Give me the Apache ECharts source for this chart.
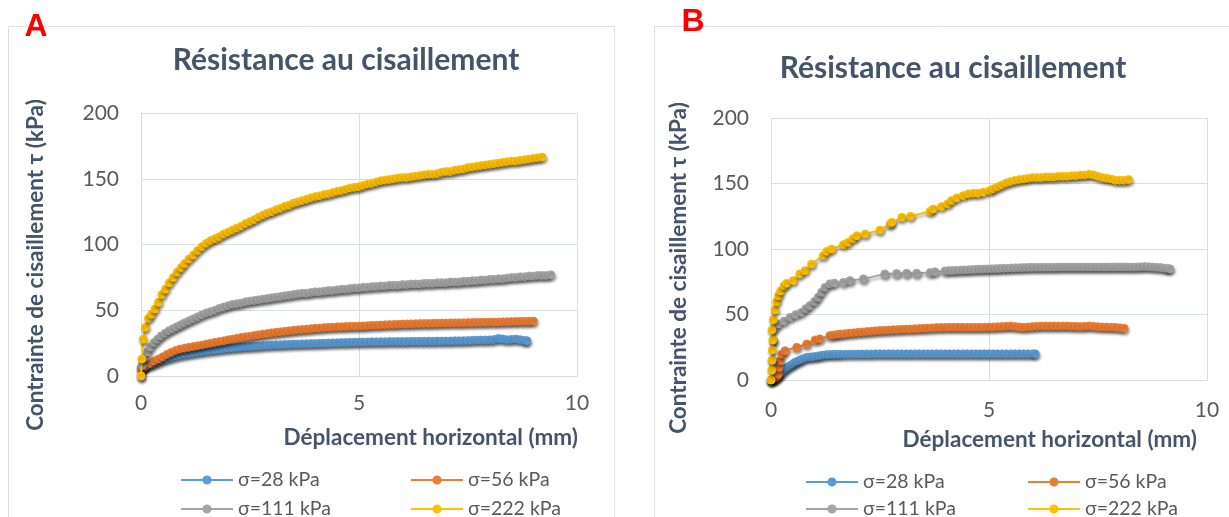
<!DOCTYPE html>
<html><head><meta charset="utf-8">
<script src="https://cdn.jsdelivr.net/npm/echarts@6/dist/echarts.min.js"></script>
<style>html,body{margin:0;padding:0;background:#fff}#c{width:1229px;height:517px}</style>
</head><body><div id="c"></div>
<script>
// ---------- DATA ----------
const seriesNames = ['σ=28 kPa', 'σ=56 kPa', 'σ=111 kPa', 'σ=222 kPa'];
const chartTitle = 'Résistance au cisaillement';
const xAxisName = 'Déplacement horizontal (mm)';
const yAxisName = 'Contrainte de cisaillement τ (kPa)';
const panelLabels = ['A', 'B'];
const xTicks = [0, 5, 10];
const yTicks = [0, 50, 100, 150, 200];

// Panel A
const A_28 = [[0,6],[0.05,7],[0.1,7.6],[0.2,8.4],[0.3,9.5],[0.4,10.8],[0.5,12.2],[0.6,13.3],[0.7,14.3],[0.8,15.2],[0.9,16],[1.0,16.6],[1.1,17.2],[1.2,17.7],[1.3,18.2],[1.4,18.7],[1.5,19.2],[1.6,19.6],[1.7,20],[1.8,20.4],[1.9,20.8],[2.0,21.1],[2.1,21.4],[2.2,21.7],[2.3,22],[2.4,22.3],[2.5,22.5],[2.6,22.7],[2.7,22.9],[2.8,23.1],[2.9,23.3],[3.0,23.5],[3.1,23.7],[3.2,23.8],[3.3,24],[3.4,24.1],[3.5,24.3],[3.6,24.4],[3.7,24.5],[3.8,24.6],[3.9,24.7],[4.0,24.8],[4.1,24.9],[4.2,25],[4.3,25.1],[4.4,25.2],[4.5,25.3],[4.6,25.4],[4.7,25.5],[4.8,25.6],[4.9,25.7],[5.0,25.8],[5.1,25.8],[5.2,25.9],[5.3,26],[5.4,26],[5.5,26.1],[5.6,26.1],[5.7,26.2],[5.8,26.2],[5.9,26.3],[6.0,26.3],[6.1,26.3],[6.2,26.4],[6.3,26.4],[6.4,26.4],[6.5,26.5],[6.6,26.5],[6.7,26.5],[6.8,26.6],[6.9,26.6],[7.0,26.6],[7.1,26.7],[7.2,26.8],[7.3,26.8],[7.4,26.9],[7.5,27],[7.6,27.1],[7.7,27.3],[7.8,27.4],[7.9,27.4],[8.0,27.5],[8.1,27.8],[8.2,28.6],[8.3,28.2],[8.4,27.6],[8.5,27.9],[8.6,28.2],[8.7,27.6],[8.8,27],[8.85,26.9]];
const A_56 = [[0,4],[0.05,6],[0.1,7.5],[0.2,9.6],[0.3,11.5],[0.4,13],[0.5,14.7],[0.6,16.5],[0.7,18],[0.8,19.5],[0.9,20.5],[1.0,21.2],[1.1,21.8],[1.2,22.4],[1.3,23],[1.4,23.6],[1.5,24.3],[1.6,25],[1.7,25.6],[1.8,26.2],[1.9,26.8],[2.0,27.5],[2.1,28.1],[2.2,28.7],[2.3,29.3],[2.4,29.8],[2.5,30.3],[2.6,30.8],[2.7,31.3],[2.8,31.9],[2.9,32.3],[3.0,32.8],[3.1,33.2],[3.2,33.6],[3.3,34],[3.4,34.4],[3.5,34.8],[3.6,35.1],[3.7,35.4],[3.8,35.7],[3.9,36],[4.0,36.3],[4.1,36.5],[4.2,36.8],[4.3,37],[4.4,37.2],[4.5,37.4],[4.6,37.5],[4.7,37.7],[4.8,37.8],[4.9,37.9],[5.0,38],[5.1,38.1],[5.2,38.3],[5.3,38.5],[5.4,38.6],[5.5,38.8],[5.6,39],[5.7,39.1],[5.8,39.2],[5.9,39.3],[6.0,39.5],[6.1,39.6],[6.2,39.7],[6.3,39.8],[6.4,39.9],[6.5,40],[6.6,40],[6.7,40.1],[6.8,40.2],[6.9,40.3],[7.0,40.3],[7.1,40.4],[7.2,40.4],[7.3,40.5],[7.4,40.5],[7.5,40.6],[7.6,40.7],[7.7,40.8],[7.8,40.8],[7.9,40.9],[8.0,41],[8.1,41],[8.2,41.1],[8.3,41.2],[8.4,41.3],[8.5,41.4],[8.6,41.5],[8.7,41.6],[8.8,41.7],[8.9,41.7],[9.0,41.8]];
const A_111 = [[0,0],[0.03,8],[0.08,14],[0.15,18.5],[0.22,22],[0.3,25.5],[0.38,28],[0.46,30.5],[0.55,32.5],[0.64,34.5],[0.73,36],[0.82,37.5],[0.91,39],[1.0,40.5],[1.1,42],[1.2,43.5],[1.3,45],[1.4,46.5],[1.5,48],[1.6,49],[1.7,50],[1.8,51.5],[1.9,52.5],[2.0,53.5],[2.1,54.5],[2.2,55],[2.3,55.5],[2.4,56.5],[2.5,57],[2.6,57.5],[2.7,58],[2.8,58.5],[2.9,59],[3.0,59.5],[3.1,60],[3.2,60.5],[3.3,61],[3.4,61.5],[3.5,62],[3.6,62.5],[3.7,63],[3.8,63],[3.9,63.5],[4.0,64],[4.1,64],[4.2,64.5],[4.3,65],[4.4,65],[4.5,65.5],[4.6,66],[4.7,66],[4.8,66.5],[4.9,67],[5.0,67],[5.1,67.5],[5.2,67.5],[5.3,68],[5.4,68],[5.5,68.5],[5.6,68.5],[5.7,69],[5.8,69],[5.9,69],[6.0,69.5],[6.1,69.5],[6.2,70],[6.3,70],[6.4,70],[6.5,70.5],[6.6,70.5],[6.7,70.5],[6.8,71],[6.9,71],[7.0,71],[7.1,71.5],[7.2,71.5],[7.3,71.5],[7.4,72],[7.5,72],[7.6,72.5],[7.7,72.5],[7.8,73],[7.9,73],[8.0,73.5],[8.1,73.5],[8.2,74],[8.3,74],[8.4,74.5],[8.5,75],[8.6,75],[8.7,75.5],[8.8,75.5],[8.9,76],[9.0,76],[9.1,76.5],[9.2,76.5],[9.3,76.5],[9.4,77]];
const A_222 = [[0,0],[0.02,13],[0.05,28],[0.1,37],[0.17,44],[0.24,47],[0.32,51],[0.4,56],[0.48,62],[0.56,66],[0.65,71],[0.74,75],[0.83,79],[0.92,82.5],[1.0,85.5],[1.1,89],[1.2,92],[1.3,95.5],[1.4,98.5],[1.5,101],[1.6,103],[1.7,104.5],[1.8,106],[1.9,108],[2.0,109.5],[2.1,111],[2.2,112.5],[2.3,114],[2.4,116],[2.5,117.5],[2.6,119],[2.7,121],[2.8,122.5],[2.9,124],[3.0,125],[3.1,126.5],[3.2,127.5],[3.3,129],[3.4,130],[3.5,131.5],[3.6,132.5],[3.7,133.5],[3.8,134.5],[3.9,135.5],[4.0,136.5],[4.1,137],[4.2,138],[4.3,138.5],[4.4,139.5],[4.5,140.5],[4.6,141],[4.7,142],[4.8,143],[4.9,143.5],[5.0,144],[5.1,145],[5.2,146],[5.3,146.5],[5.4,147.5],[5.5,148.5],[5.6,149],[5.7,149.5],[5.8,150],[5.9,150.5],[6.0,151],[6.1,151],[6.2,151.5],[6.3,152],[6.4,152.5],[6.5,153],[6.6,153.5],[6.7,153.5],[6.8,154],[6.9,155],[7.0,155.5],[7.1,155.5],[7.2,156.5],[7.3,157],[7.4,157.5],[7.5,158.5],[7.6,159],[7.7,159.5],[7.8,160],[7.9,160.5],[8.0,161],[8.1,161.5],[8.2,162],[8.3,162.5],[8.4,163],[8.5,163.5],[8.6,163.5],[8.7,164],[8.8,164.5],[8.9,165],[9.0,165.5],[9.1,166],[9.2,166.5]];

// Panel B
const B_28 = [[0,0],[0.05,0.8],[0.09,1.2],[0.15,3],[0.21,4.6],[0.27,6.5],[0.32,8.4],[0.38,9.8],[0.44,11],[0.5,12.3],[0.55,13.5],[0.61,14.4],[0.67,15.3],[0.74,16.3],[0.82,17.3],[0.9,17.6],[0.97,17.8],[1.05,18.2],[1.12,18.6],[1.2,19],[1.28,19.4],[1.36,19.5],[1.44,19.6],[1.52,19.6],[1.6,19.7],[1.7,19.7],[1.8,19.8],[1.9,19.8],[2.0,19.8],[2.1,19.9],[2.2,19.9],[2.3,19.9],[2.4,20],[2.5,20],[2.6,20],[2.7,20],[2.8,20],[2.9,20],[3.0,20],[3.1,20],[3.2,20],[3.3,20],[3.4,20],[3.5,20],[3.6,20],[3.7,20],[3.8,20],[3.9,20],[4.0,20],[4.1,20],[4.2,20],[4.3,20],[4.4,20],[4.5,20],[4.6,20],[4.7,20],[4.8,20],[4.9,20],[5.0,20],[5.1,20],[5.2,20],[5.3,20],[5.4,20],[5.5,20],[5.6,20],[5.7,20],[5.8,20],[5.9,20],[6.0,20],[6.06,20]];
const B_56 = [[0,0],[0.1,1.5],[0.15,3],[0.17,4.6],[0.19,9.7],[0.21,14.8],[0.25,19.9],[0.32,22.4],[0.59,25],[0.82,27.5],[1.01,30.6],[1.12,31.4],[1.35,33.9],[1.44,34.4],[1.52,34.8],[1.6,35.1],[1.7,35.4],[1.8,35.8],[1.9,36.1],[2.0,36.4],[2.1,36.7],[2.2,37],[2.3,37.3],[2.4,37.6],[2.5,37.8],[2.6,38],[2.7,38.2],[2.8,38.4],[2.9,38.5],[3.0,38.7],[3.1,38.9],[3.2,39],[3.3,39.2],[3.4,39.3],[3.5,39.5],[3.6,39.6],[3.7,39.8],[3.8,40],[3.9,40.1],[4.0,40.2],[4.1,40.2],[4.2,40.3],[4.3,40.3],[4.4,40.3],[4.5,40.2],[4.6,40.2],[4.7,40.2],[4.8,40.3],[4.9,40.3],[5.0,40.4],[5.1,40.5],[5.2,40.7],[5.3,40.8],[5.4,41],[5.5,41.2],[5.6,40.8],[5.7,40.5],[5.8,40.3],[5.9,40.5],[6.0,40.8],[6.1,41],[6.2,41.2],[6.3,41.2],[6.4,41.2],[6.5,41.3],[6.6,41.2],[6.7,41.2],[6.8,41.2],[6.9,41.1],[7.0,41],[7.1,40.8],[7.2,41],[7.3,41.3],[7.4,41],[7.5,40.7],[7.6,40.5],[7.7,40.5],[7.8,40.3],[7.9,40.2],[8.0,39.8],[8.1,39.5]];
const B_111 = [[0,0],[0.03,15],[0.06,30],[0.09,40],[0.17,42.8],[0.3,45],[0.44,47.9],[0.57,50],[0.7,51.7],[0.8,54.5],[0.89,56.8],[1.0,60],[1.08,63.2],[1.16,67],[1.24,70.8],[1.35,73.4],[1.45,74],[1.66,74.6],[1.81,75.9],[2.12,77.2],[2.61,81],[2.88,81.3],[3.11,81.5],[3.34,81.5],[3.65,82],[3.76,82.6],[3.99,83.3],[4.08,83.5],[4.17,83.6],[4.26,83.8],[4.35,83.9],[4.44,84],[4.53,84.2],[4.62,84.3],[4.71,84.5],[4.8,84.6],[4.89,84.7],[4.98,84.8],[5.07,84.9],[5.16,85],[5.25,85.2],[5.34,85.3],[5.43,85.4],[5.52,85.5],[5.61,85.6],[5.7,85.7],[5.79,85.8],[5.88,85.9],[5.97,86],[6.06,86],[6.15,86],[6.24,86.1],[6.33,86.1],[6.42,86.1],[6.51,86.1],[6.6,86.2],[6.69,86.2],[6.78,86.2],[6.87,86.2],[6.96,86.2],[7.05,86.2],[7.14,86.2],[7.23,86.2],[7.32,86.2],[7.41,86.2],[7.5,86.2],[7.59,86.2],[7.68,86.2],[7.77,86.3],[7.86,86.3],[7.95,86.3],[8.04,86.3],[8.13,86.3],[8.22,86.2],[8.31,86.2],[8.4,86.3],[8.49,86.5],[8.58,86.6],[8.67,86.4],[8.76,86.2],[8.85,86],[8.94,85.8],[9.03,85.4],[9.1,85.1],[9.15,84.9]];
const B_222 = [[0,0],[0.015,7.4],[0.02,15],[0.03,22.9],[0.04,30.5],[0.02,38.2],[0.05,45.9],[0.09,53.5],[0.13,59.9],[0.17,64.4],[0.22,68],[0.3,72],[0.36,73.9],[0.51,75.9],[0.66,81],[0.78,83.5],[0.93,88.6],[1.2,95],[1.28,98.3],[1.39,100],[1.66,103.4],[1.77,105.1],[1.88,108],[1.97,110.2],[2.16,111.5],[2.5,114.5],[2.73,119.1],[2.77,120.4],[3.0,124.2],[3.2,125],[3.65,128.8],[3.72,130.6],[3.91,132.4],[4.05,134.5],[4.14,137],[4.26,139],[4.41,140.8],[4.53,142.1],[4.64,142.6],[4.75,142.6],[4.87,143.4],[5.02,144.7],[5.1,146],[5.2,147.5],[5.3,149],[5.4,150.5],[5.5,151.5],[5.6,152.5],[5.7,153],[5.8,153.5],[5.9,154],[6.0,154.5],[6.1,154.5],[6.2,154.5],[6.3,155],[6.4,155],[6.5,155],[6.6,155.5],[6.7,155.5],[6.8,155.5],[6.9,156],[7.0,156],[7.1,156.5],[7.2,156.5],[7.3,157],[7.4,156.5],[7.5,155.5],[7.6,154.5],[7.7,154],[7.8,153.5],[7.9,152.5],[8.0,152.5],[8.1,152.5],[8.2,153]];

const panelA = [A_28, A_56, A_111, A_222];
const panelB = [B_28, B_56, B_111, B_222];

// ---------- STYLE ----------
const colors = ['#5B9BD5', '#ED7D31', '#A5A5A5', '#FFC000'];
const FONT = 'Lato, "Open Sans", sans-serif';
const titleColor = '#44546A';
const tickColor = '#595959';
const gridColor = '#D9DDE4';

const grids = [
  { left: 141, top: 113, width: 436, height: 263 },
  { left: 771, top: 118, width: 436, height: 262 }
];

function makeX(i) {
  return {
    type: 'value', gridIndex: i, min: xTicks[0], max: xTicks[xTicks.length - 1], interval: xTicks[1] - xTicks[0],
    axisLine: { show: true, lineStyle: { color: gridColor, width: 1 } },
    axisTick: { show: false },
    splitLine: { show: true, lineStyle: { color: gridColor, width: 1 } },
    axisLabel: { color: tickColor, fontFamily: FONT, fontSize: 21, margin: i === 0 ? 17 : 20 }
  };
}
function makeY(i) {
  return {
    type: 'value', gridIndex: i, min: yTicks[0], max: yTicks[yTicks.length - 1], interval: yTicks[1] - yTicks[0],
    axisLine: { show: true, lineStyle: { color: gridColor, width: 1 } },
    axisTick: { show: false },
    splitLine: { show: true, lineStyle: { color: gridColor, width: 1 } },
    axisLabel: { color: tickColor, fontFamily: FONT, fontSize: 21, margin: 22 }
  };
}

const series = [];
[panelA, panelB].forEach((panel, pi) => {
  panel.forEach((data, si) => {
    series.push({
      type: 'line', name: seriesNames[si], xAxisIndex: pi, yAxisIndex: pi,
      data: data, symbol: 'circle', symbolSize: 8, showSymbol: true,
      z: 2 + si,
      lineStyle: { color: colors[si], width: 2, shadowBlur: 3, shadowColor: 'rgba(0,0,0,0.35)', shadowOffsetX: 1, shadowOffsetY: 2.5 },
      itemStyle: { color: colors[si], borderColor: colors[si], borderWidth: 0.8, shadowBlur: 3, shadowColor: 'rgba(0,0,0,0.4)', shadowOffsetX: 1, shadowOffsetY: 2.5 },
      emphasis: { disabled: true },
      animation: false
    });
  });
});

function legendItem(left, centerY, name) {
  return {
    left: left, top: centerY - 10, orient: 'horizontal', data: [name],
    itemWidth: 52, itemHeight: 9, itemTextGap: 6, padding: 0,
    textStyle: { color: tickColor, fontFamily: FONT, fontSize: 19.5, lineHeight: 20 },
    selectedMode: false
  };
}

const option = {
  backgroundColor: '#fff',
  animation: false,
  title: [
    { text: chartTitle, left: 341, top: 40, textAlign: 'center', textStyle: { color: titleColor, fontFamily: FONT, fontWeight: 'bold', fontSize: 30 } },
    { text: chartTitle, left: 948, top: 48, textAlign: 'center', textStyle: { color: titleColor, fontFamily: FONT, fontWeight: 'bold', fontSize: 30 } }
  ],
  grid: grids,
  xAxis: [makeX(0), makeX(1)],
  yAxis: [makeY(0), makeY(1)],
  legend: [
    legendItem(180, 480, seriesNames[0]),
    legendItem(180, 509, seriesNames[2]),
    legendItem(410, 480, seriesNames[1]),
    legendItem(410, 509, seriesNames[3]),
    legendItem(805, 482, seriesNames[0]),
    legendItem(805, 509, seriesNames[2]),
    legendItem(1027, 482, seriesNames[1]),
    legendItem(1027, 509, seriesNames[3])
  ],
  graphic: [
    { type: 'rect', shape: { x: 8.5, y: 26.5, width: 606, height: 520 }, style: { fill: 'none', stroke: '#DDE1E7', lineWidth: 1 }, z: -1 },
    { type: 'rect', shape: { x: 654.5, y: 26.5, width: 600, height: 520 }, style: { fill: 'none', stroke: '#DDE1E7', lineWidth: 1 }, z: -1 },
    { type: 'text', x: 36, y: 27, style: { text: panelLabels[0], fill: '#FF0000', font: 'bold 32px "Liberation Sans", Arial, sans-serif', textAlign: 'center', textVerticalAlign: 'middle' }, z: 10 },
    { type: 'text', x: 693, y: 22, style: { text: panelLabels[1], fill: '#FF0000', font: 'bold 32px "Liberation Sans", Arial, sans-serif', textAlign: 'center', textVerticalAlign: 'middle' }, z: 10 },
    { type: 'text', x: 36, y: 265, rotation: Math.PI / 2, style: { text: yAxisName, fill: titleColor, font: 'bold 22.5px Lato, sans-serif', textAlign: 'center', textVerticalAlign: 'middle' } },
    { type: 'text', x: 679, y: 268, rotation: Math.PI / 2, style: { text: yAxisName, fill: titleColor, font: 'bold 22.5px Lato, sans-serif', textAlign: 'center', textVerticalAlign: 'middle' } },
    { type: 'text', x: 578, y: 438, style: { text: xAxisName, fill: titleColor, font: 'bold 22.5px Lato, sans-serif', textAlign: 'right', textVerticalAlign: 'middle' } },
    { type: 'text', x: 1197, y: 440, style: { text: xAxisName, fill: titleColor, font: 'bold 22.5px Lato, sans-serif', textAlign: 'right', textVerticalAlign: 'middle' } }
  ],
  series: series
};

const chart = echarts.init(document.getElementById('c'), null, { renderer: 'canvas' });
chart.setOption(option);
</script>
</body></html>
